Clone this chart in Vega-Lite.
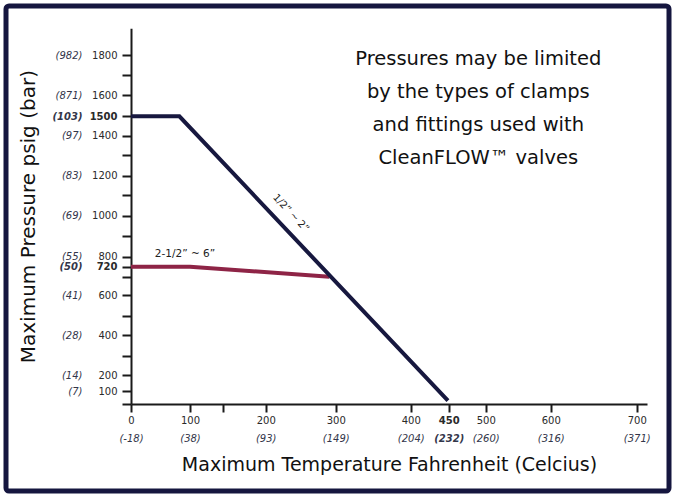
{
  "$schema": "https://vega.github.io/schema/vega-lite/v6.json",
  "width": 663,
  "height": 485,
  "autosize": {"type": "none"},
  "padding": {"left": 6, "top": 6, "right": 6, "bottom": 9},
  "background": "white",
  "config": {
    "view": {"stroke": "#15163f", "strokeWidth": 5, "cornerRadius": 3},
    "font": "DejaVu Sans",
    "axis": {"grid": false}
  },
  "resolve": {"axis": {"x": "independent", "y": "independent"}},
  "layer": [
    {
      "data": {"values": [
        {"series": "2-1/2\" ~ 6\"", "temp": 0, "psi": 720, "ord": 1},
        {"series": "2-1/2\" ~ 6\"", "temp": 100, "psi": 720, "ord": 2},
        {"series": "2-1/2\" ~ 6\"", "temp": 291, "psi": 700, "ord": 3},
        {"series": "1/2\" ~ 2\"", "temp": 0, "psi": 1500, "ord": 1},
        {"series": "1/2\" ~ 2\"", "temp": 82, "psi": 1500, "ord": 2},
        {"series": "1/2\" ~ 2\"", "temp": 449, "psi": 26, "ord": 3}
      ]},
      "mark": {"type": "line", "strokeWidth": 4, "strokeCap": "butt", "strokeJoin": "miter"},
      "encoding": {
        "x": {
          "field": "temp", "type": "quantitative",
          "scale": {"type": "linear", "domain": [0, 100, 150, 200, 300, 400, 450, 500, 600, 700, 712], "range": [125, 184, 216.7, 259.7, 329.7, 404.7, 442.7, 479.7, 544.7, 630.7, 641], "nice": false, "zero": false},
          "axis": {
            "orient": "bottom", "offset": -87,
            "values": [0, 100, 150, 200, 300, 400, 450, 500, 600, 700],
            "format": "d",
            "labelExpr": "datum.value == 150 ? '' : datum.label",
            "tickSize": 8, "tickWidth": 2, "tickColor": "#1a1a1a",
            "domainColor": "#1a1a1a", "domainWidth": 2,
            "labelFont": "DejaVu Sans", "labelFontSize": 10, "labelColor": "#2a2a2a",
            "labelPadding": 3, "labelOverlap": false, "labelFlush": false, "labelBound": false,
            "labelFontWeight": {"condition": {"test": "datum.value == 450", "value": "bold"}, "value": "normal"},
            "title": "Maximum Temperature Fahrenheit (Celcius)",
            "titleFont": "DejaVu Sans", "titleFontSize": 19, "titleFontWeight": "normal", "titleColor": "#111111",
            "titlePadding": 30
          }
        },
        "y": {
          "field": "psi", "type": "quantitative",
          "scale": {"type": "linear", "domain": [0, 100, 200, 300, 400, 500, 600, 700, 720, 800, 900, 1000, 1100, 1200, 1300, 1400, 1500, 1600, 1700, 1800, 1935], "range": [398, 385.3, 369.3, 350, 329.3, 310, 289.3, 270.7, 260.7, 250.7, 230, 209.7, 189, 169.7, 149, 129.7, 110.3, 89, 69, 49.3, 22.3], "nice": false, "zero": false},
          "axis": {
            "orient": "left", "offset": -125,
            "values": [0, 100, 200, 300, 400, 500, 600, 700, 720, 800, 900, 1000, 1100, 1200, 1300, 1400, 1500, 1600, 1700, 1800],
            "format": "d",
            "labelExpr": "indexof([100, 200, 400, 600, 720, 800, 1000, 1200, 1400, 1500, 1600, 1800], datum.value) >= 0 ? datum.label : ''",
            "tickSize": 9, "tickWidth": 2, "tickColor": "#1a1a1a",
            "domainColor": "#1a1a1a", "domainWidth": 2,
            "labelFont": "DejaVu Sans", "labelFontSize": 10, "labelColor": "#2a2a2a",
            "labelPadding": 5, "labelOverlap": false, "labelBound": false, "labelFlush": false,
            "labelFontWeight": {"condition": {"test": "datum.value == 1500 || datum.value == 720", "value": "bold"}, "value": "normal"},
            "title": "Maximum Pressure psig (bar)",
            "titleFont": "DejaVu Sans", "titleFontSize": 20, "titleFontWeight": "normal", "titleColor": "#111111",
            "titlePadding": 51
          }
        },
        "color": {"field": "series", "type": "nominal", "scale": {"domain": ["2-1/2\" ~ 6\"", "1/2\" ~ 2\""], "range": ["#8e2446", "#17183f"]}, "legend": null},
        "order": {"field": "ord", "type": "quantitative"}
      }
    },
    {
      "data": {"values": [{"label": "1/2” ~ 2”", "temp": 236, "psi": 1013}]},
      "mark": {"type": "text", "angle": 47, "fontSize": 10, "font": "DejaVu Sans", "color": "#222222", "align": "center", "baseline": "middle"},
      "encoding": {
        "x": {"field": "temp", "type": "quantitative", "axis": null, "scale": {"type": "linear", "domain": [0, 100, 150, 200, 300, 400, 450, 500, 600, 700, 712], "range": [125, 184, 216.7, 259.7, 329.7, 404.7, 442.7, 479.7, 544.7, 630.7, 641], "nice": false, "zero": false}},
        "y": {"field": "psi", "type": "quantitative", "axis": null, "scale": {"type": "linear", "domain": [0, 100, 200, 300, 400, 500, 600, 700, 720, 800, 900, 1000, 1100, 1200, 1300, 1400, 1500, 1600, 1700, 1800, 1935], "range": [398, 385.3, 369.3, 350, 329.3, 310, 289.3, 270.7, 260.7, 250.7, 230, 209.7, 189, 169.7, 149, 129.7, 110.3, 89, 69, 49.3, 22.3], "nice": false, "zero": false}},
        "text": {"field": "label"}
      }
    },
    {
      "data": {"values": [{"label": "2-1/2” ~ 6”", "temp": 91.5, "psi": 813}]},
      "mark": {"type": "text", "fontSize": 10.5, "font": "DejaVu Sans", "color": "#222222", "align": "center", "baseline": "middle"},
      "encoding": {
        "x": {"field": "temp", "type": "quantitative", "axis": null, "scale": {"type": "linear", "domain": [0, 100, 150, 200, 300, 400, 450, 500, 600, 700, 712], "range": [125, 184, 216.7, 259.7, 329.7, 404.7, 442.7, 479.7, 544.7, 630.7, 641], "nice": false, "zero": false}},
        "y": {"field": "psi", "type": "quantitative", "axis": null, "scale": {"type": "linear", "domain": [0, 100, 200, 300, 400, 500, 600, 700, 720, 800, 900, 1000, 1100, 1200, 1300, 1400, 1500, 1600, 1700, 1800, 1935], "range": [398, 385.3, 369.3, 350, 329.3, 310, 289.3, 270.7, 260.7, 250.7, 230, 209.7, 189, 169.7, 149, 129.7, 110.3, 89, 69, 49.3, 22.3], "nice": false, "zero": false}},
        "text": {"field": "label"}
      }
    },
    {
      "data": {"values": [{"note": "Pressures may be limited\nby the types of clamps\nand fittings used with\nCleanFLOW™ valves", "temp": 490, "psi": 1828}]},
      "mark": {"type": "text", "fontSize": 19.5, "font": "DejaVu Sans", "color": "#111111", "align": "center", "baseline": "top", "lineBreak": "\n", "lineHeight": 33},
      "encoding": {
        "x": {
          "field": "temp", "type": "quantitative",
          "scale": {"type": "linear", "domain": [0, 100, 150, 200, 300, 400, 450, 500, 600, 700, 712], "range": [125, 184, 216.7, 259.7, 329.7, 404.7, 442.7, 479.7, 544.7, 630.7, 641], "nice": false, "zero": false},
          "axis": {
            "orient": "bottom", "offset": -87,
            "values": [0, 100, 200, 300, 400, 450, 500, 600, 700],
            "labelExpr": "datum.value == 0 ? '(-18)' : datum.value == 100 ? '(38)' : datum.value == 200 ? '(93)' : datum.value == 300 ? '(149)' : datum.value == 400 ? '(204)' : datum.value == 450 ? '(232)' : datum.value == 500 ? '(260)' : datum.value == 600 ? '(316)' : datum.value == 700 ? '(371)' : ''",
            "ticks": false, "tickSize": 0, "domain": false,
            "labelFont": "DejaVu Sans", "labelFontSize": 10, "labelFontStyle": "italic", "labelColor": "#33364a",
            "labelPadding": 29, "labelOverlap": false, "labelFlush": false, "labelBound": false,
            "labelFontWeight": {"condition": {"test": "datum.value == 450", "value": "bold"}, "value": "normal"},
            "title": null
          }
        },
        "y": {
          "field": "psi", "type": "quantitative",
          "scale": {"type": "linear", "domain": [0, 100, 200, 300, 400, 500, 600, 700, 720, 800, 900, 1000, 1100, 1200, 1300, 1400, 1500, 1600, 1700, 1800, 1935], "range": [398, 385.3, 369.3, 350, 329.3, 310, 289.3, 270.7, 260.7, 250.7, 230, 209.7, 189, 169.7, 149, 129.7, 110.3, 89, 69, 49.3, 22.3], "nice": false, "zero": false},
          "axis": {
            "orient": "left", "offset": -125,
            "values": [100, 200, 400, 600, 720, 800, 1000, 1200, 1400, 1500, 1600, 1800],
            "labelExpr": "datum.value == 1800 ? '(982)' : datum.value == 1600 ? '(871)' : datum.value == 1500 ? '(103)' : datum.value == 1400 ? '(97)' : datum.value == 1200 ? '(83)' : datum.value == 1000 ? '(69)' : datum.value == 800 ? '(55)' : datum.value == 720 ? '(50)' : datum.value == 600 ? '(41)' : datum.value == 400 ? '(28)' : datum.value == 200 ? '(14)' : datum.value == 100 ? '(7)' : ''",
            "ticks": false, "tickSize": 0, "domain": false,
            "labelFont": "DejaVu Sans", "labelFontSize": 10, "labelFontStyle": "italic", "labelColor": "#33364a",
            "labelPadding": 49, "labelOverlap": false, "labelBound": false, "labelFlush": false,
            "labelFontWeight": {"condition": {"test": "datum.value == 1500 || datum.value == 720", "value": "bold"}, "value": "normal"},
            "title": null
          }
        },
        "text": {"field": "note"}
      }
    }
  ]
}
